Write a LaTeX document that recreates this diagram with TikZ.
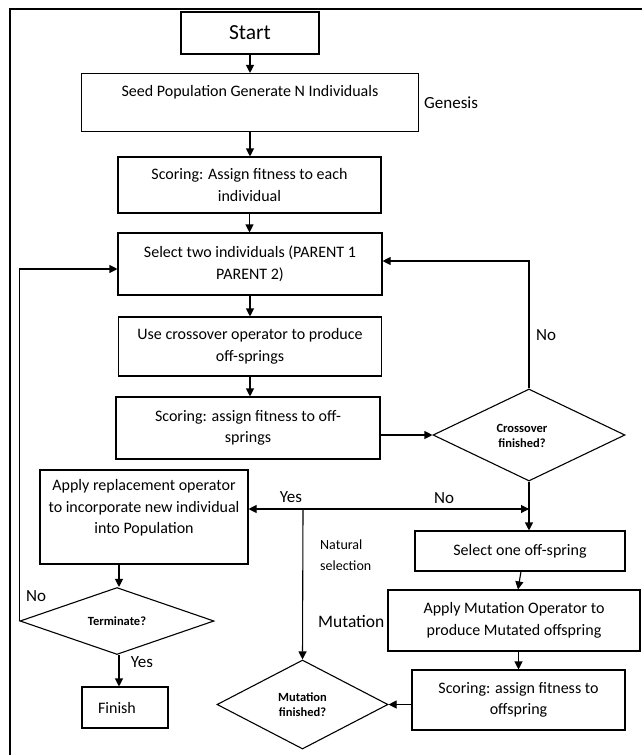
\documentclass[tikz,border=0pt]{standalone}
\usepackage{fontspec}
\setmainfont{Carlito}
\usetikzlibrary{arrows.meta,shapes.geometric}
\tikzset{
  box/.style={draw, line width=1.1pt, inner sep=0pt, align=center, font=\fontsize{16}{21.5}\selectfont},
  dia/.style={draw, diamond, line width=1.1pt, inner sep=0pt, align=center, font=\bfseries\fontsize{12.5}{15}\selectfont},
  dtxt/.style={inner sep=0pt, align=center, font=\bfseries\fontsize{12.5}{15}\selectfont},
  arr/.style={line width=1.1pt, -{Triangle[length=8pt,width=8pt]}},
  conn/.style={line width=1.1pt},
  lbl/.style={font=\fontsize{17}{20}\selectfont, inner sep=0pt},
  txt/.style={font=\fontsize{16}{21.5}\selectfont, inner sep=0pt, align=center},
}
\begin{document}
\begin{tikzpicture}[x=1pt,y=-1pt]
\useasboundingbox (0,0) rectangle (642,755);
\fill[white] (0,0) rectangle (642,755);
% frame
\draw[conn] (642,9) -- (10,9) -- (10,755);

% nodes
\node[box, minimum width=138, minimum height=42, font=\fontsize{21.5}{24}\selectfont] (start) at (250,33) {Start};
\node[box, minimum width=337, minimum height=58,
  label={[txt, anchor=center, yshift=10.5pt]center:Seed Population Generate N Individuals}] (seed) at (250,102.5) {};
\node[lbl, anchor=west] (genesis) at (424,103) {Genesis};
\node[box, minimum width=263, minimum height=56] (score1) at (249.5,185) {Scoring: Assign fitness to each\\individual};
\node[box, minimum width=264, minimum height=62] (sel2) at (250,264) {Select two individuals (PARENT 1\\PARENT 2)};
\node[box, minimum width=263, minimum height=59] (cross) at (250,346.5) {Use crossover operator to produce\\off-springs};
\node[box, minimum width=264, minimum height=62] (scoreoff) at (248,428) {Scoring: assign fitness to off-\\springs};
\node[dia, minimum width=192, minimum height=92,
  label={[dtxt, anchor=center, xshift=-7pt, yshift=-1pt]center:Crossover\\finished?}] (cdia) at (529,435) {};
\node[lbl] (nolbl1) at (546,335) {No};

\node[box, minimum width=208, minimum height=94,
  label={[txt, anchor=center, yshift=9pt]center:Apply replacement operator\\to incorporate new individual\\into Population}] (apply) at (144,517) {};
\node[dia, minimum width=194, minimum height=60] (tdia) at (117,621) {Terminate?};
\node[box, minimum width=86, minimum height=41,
  label={[txt, anchor=center, xshift=-8pt]center:Finish}] (finish) at (125,707.5) {};
\node[lbl] (nolbl2) at (36,596) {No};
\node[lbl] (yeslbl2) at (142,662) {Yes};

\node[box, minimum width=210, minimum height=40] (sel1) at (520,551) {Select one off-spring};
\node[box, minimum width=252, minimum height=61] (mut) at (514,620.5) {Apply Mutation Operator to\\produce Mutated offspring};
\node[box, minimum width=213, minimum height=60] (score2) at (518.5,700) {Scoring: assign fitness to\\offspring};
\node[dia, minimum width=171, minimum height=89] (mdia) at (302.5,704.5) {Mutation\\finished?};
\node[lbl, font=\fontsize{17.5}{20}\selectfont, anchor=west] (mutlbl) at (318,622) {Mutation};
\node[lbl, font=\fontsize{14}{21}\selectfont, align=left, anchor=north west] (natsel) at (320,540) {Natural\\selection};
\node[lbl] (yeslbl1) at (291,497) {Yes};
\node[lbl] (nolbl3) at (444,498) {No};

\coordinate (j) at (303,509);
\coordinate (k) at (529,509);

% connectors
\draw[arr] (start) -- (seed);
\draw[arr] (seed.south) -- (seed.south |- score1.north);
\draw[arr] (score1.south) -- (score1.south |- sel2.north);
\draw[arr] (sel2.south) -- (sel2.south |- cross.north);
\draw[arr] (cross.south) -- (cross.south |- scoreoff.north);
\draw[arr] (scoreoff.east |- cdia.west) -- (cdia.west);
\draw[arr] (cdia.north) |- ([yshift=3pt]sel2.east);
\draw[arr] (cdia.south) -- (cdia.south |- sel1.north);
\draw[arr] ([xshift=1pt]sel1.south) -- ([xshift=4pt]mut.north);
\draw[arr] (mut.south -| score2.north) -- (score2.north);
\draw[arr] (score2.west |- mdia.east) -- (mdia.east);
\draw[arr] (j) -- (apply.east |- j);
\draw[arr] (j) -- (k);
\draw[arr] (j) -- (mdia.north);
\draw[arr] (apply.south -| 119,0) -- (tdia.north -| 119,0);
\draw[arr] (tdia.south -| 119,0) -- (finish.north -| 119,0);
\draw[arr] (tdia.west) |- ([yshift=-5pt]sel2.west);
\end{tikzpicture}
\end{document}
